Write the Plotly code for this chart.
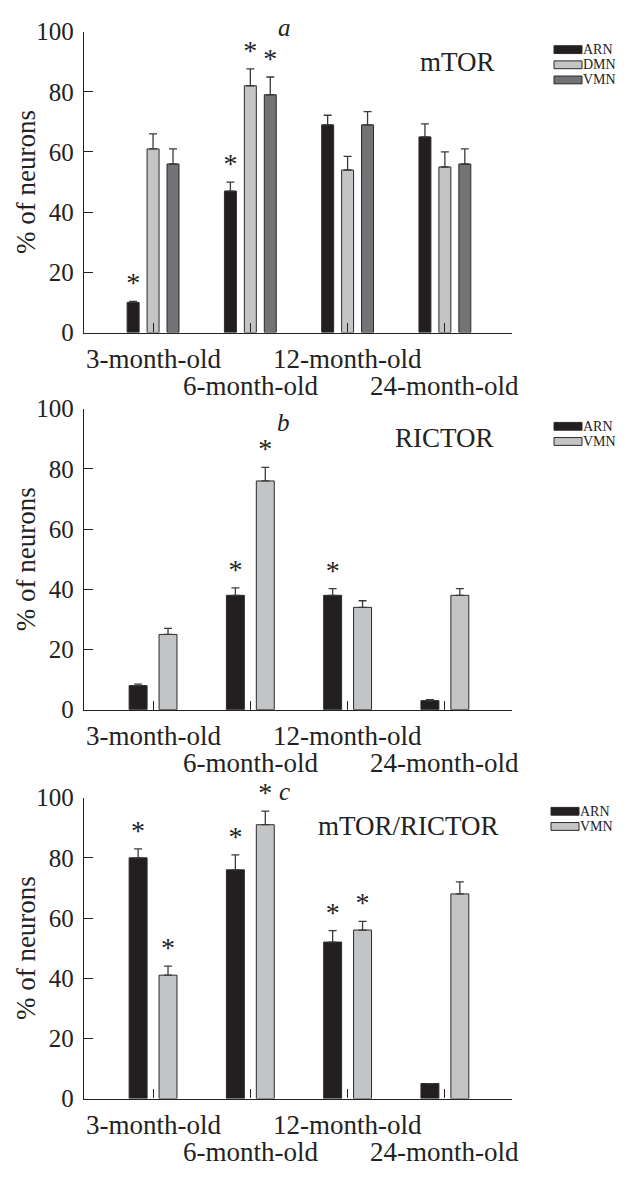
import plotly.graph_objects as go

# ---------------- data ----------------
ages = ["3-month-old", "6-month-old", "12-month-old", "24-month-old"]

# panel a: mTOR
mtor_arn = [10, 47, 69, 65]
mtor_arn_err = [0.3, 3, 3.2, 4.3]
mtor_arn_sig = [1, 1, 0, 0]
mtor_dmn = [61, 82, 54, 55]
mtor_dmn_err = [5, 5.6, 4.5, 5]
mtor_dmn_sig = [0, 1, 0, 0]
mtor_vmn = [56, 79, 69, 56]
mtor_vmn_err = [5, 5.9, 4.4, 5]
mtor_vmn_sig = [0, 1, 0, 0]

# panel b: RICTOR
rictor_arn = [8, 38, 38, 3]
rictor_arn_err = [0.5, 2.5, 2.2, 0.3]
rictor_arn_sig = [0, 1, 1, 0]
rictor_vmn = [25, 76, 34, 38]
rictor_vmn_err = [2, 4.5, 2.2, 2.2]
rictor_vmn_sig = [0, 1, 0, 0]

# panel c: mTOR/RICTOR
co_arn = [80, 76, 52, 5]
co_arn_err = [3, 5, 3.8, 0]
co_arn_sig = [1, 1, 1, 0]
co_vmn = [41, 91, 56, 68]
co_vmn_err = [3, 4.5, 2.9, 4]
co_vmn_sig = [1, 1, 1, 0]

panel_letters = ["a", "b", "c"]
panel_titles = ["mTOR", "RICTOR", "mTOR/RICTOR"]
y_title = "% of neurons"

# ---------------- styles ----------------
C_BLACK = "#231f20"
C_LIGHT = "#c3c4c6"
C_DARK = "#727377"
FONT = "Liberation Serif"
W, H = 630, 1180

panels = [
    dict(series=[("ARN", mtor_arn, mtor_arn_err, mtor_arn_sig, C_BLACK),
                 ("DMN", mtor_dmn, mtor_dmn_err, mtor_dmn_sig, C_LIGHT),
                 ("VMN", mtor_vmn, mtor_vmn_err, mtor_vmn_sig, C_DARK)],
         y0=327, y100=19, letter=(284, 15), title=(457, 50), legend=(554, 37.5)),
    dict(series=[("ARN", rictor_arn, rictor_arn_err, rictor_arn_sig, C_BLACK),
                 ("VMN", rictor_vmn, rictor_vmn_err, rictor_vmn_sig, C_LIGHT)],
         y0=713, y100=405, letter=(283, 419), title=(444, 435), legend=(554, 423)),
    dict(series=[("ARN", co_arn, co_arn_err, co_arn_sig, C_BLACK),
                 ("VMN", co_vmn, co_vmn_err, co_vmn_sig, C_LIGHT)],
         y0=1111, y100=803, letter=(284, 797), title=(408, 832), legend=(551, 817)),
]
LEG_STEP = 15.5

fig = go.Figure()
annotations = []
shapes = []
x_dom = [84 / W, 512 / W]

for i, p in enumerate(panels):
    k = "" if i == 0 else str(i + 1)
    xa, ya = "x" + k, "y" + k
    for j, (name, vals, errs, sig, col) in enumerate(p["series"]):
        og = f"p{i}s{j}"
        fig.add_trace(go.Bar(
            x=ages, y=vals, name=name, xaxis=xa, yaxis=ya, offsetgroup=og,
            marker=dict(color=col, line=dict(color="#2a2a2a", width=1)),
            error_y=dict(type="data", array=errs, arrayminus=[0] * len(errs),
                         symmetric=False, color="#3a3a3a", thickness=1.3, width=4),
            showlegend=False,
        ))
        # significance asterisks placed above the error bars
        fig.add_trace(go.Bar(
            x=ages, y=[0.01] * len(vals), base=[v + e for v, e in zip(vals, errs)],
            xaxis=xa, yaxis=ya, offsetgroup=og,
            marker=dict(color="rgba(0,0,0,0)", line=dict(width=0)),
            text=["*" if s else "" for s in sig], textposition="outside",
            textfont=dict(family=FONT, size=28, color="#222"),
            constraintext="none", cliponaxis=False, hoverinfo="skip",
            showlegend=False,
        ))
    dom = [1 - p["y0"] / H, 1 - p["y100"] / H]
    fig.layout["xaxis" + k] = dict(
        domain=x_dom, anchor=ya, type="category", range=[-0.71, 3.69],
        showline=True, linecolor="#222", linewidth=1.3,
        ticks="inside", ticklen=9, tickwidth=1.3, tickcolor="#222",
        showticklabels=False, showgrid=False, zeroline=False, fixedrange=True,
    )
    fig.layout["yaxis" + k] = dict(
        domain=dom, anchor=xa, range=[0, 100], dtick=20,
        showline=True, linecolor="#222", linewidth=1.3,
        ticks="inside", ticklen=9, tickwidth=1.3, tickcolor="#222",
        tickfont=dict(family=FONT, size=25, color="#222"),
        ticklabelstandoff=4, showgrid=False, zeroline=False,
    )
    # category labels in two staggered rows
    for c, lab in enumerate(ages):
        annotations.append(dict(
            x=lab, y=0, xref=xa, yref=ya + " domain", text=lab, showarrow=False,
            xanchor="center", yanchor="middle", yshift=-26 if c % 2 == 0 else -53,
            font=dict(family=FONT, size=27, color="#222"),
        ))
    # y-axis title
    annotations.append(dict(
        x=26 / W, y=0.5, xref="paper", yref=ya + " domain", text=y_title,
        textangle=-90, showarrow=False, xanchor="center", yanchor="middle",
        font=dict(family=FONT, size=27, color="#222"),
    ))
    # panel letter
    lx, ly = p["letter"]
    annotations.append(dict(
        x=lx / W, y=1 - ly / H, xref="paper", yref="paper",
        text="<i>" + panel_letters[i] + "</i>", showarrow=False,
        xanchor="center", yanchor="middle", borderpad=0,
        font=dict(family=FONT, size=25, color="#222"),
    ))
    # panel title
    tx, ty = p["title"]
    annotations.append(dict(
        x=tx / W, y=1 - ty / H, xref="paper", yref="paper",
        text=panel_titles[i], showarrow=False, xanchor="center", yanchor="middle",
        font=dict(family=FONT, size=27, color="#222"),
    ))
    # legend (swatch + label)
    gx, gy = p["legend"]
    for j, (name, _, _, _, col) in enumerate(p["series"]):
        cy = gy + j * LEG_STEP
        shapes.append(dict(
            type="rect", xref="paper", yref="paper",
            x0=gx / W, x1=(gx + 28) / W, y0=1 - (cy + 4) / H, y1=1 - (cy - 4) / H,
            fillcolor=col, line=dict(color="#2a2a2a", width=1),
        ))
        annotations.append(dict(
            x=(gx + 28) / W, y=1 - cy / H, xref="paper", yref="paper",
            text=name, showarrow=False, xanchor="left", yanchor="middle",
            borderpad=0, font=dict(family=FONT, size=14, color="#222"),
        ))

fig.update_layout(
    width=W, height=H, margin=dict(l=0, r=0, t=0, b=0),
    paper_bgcolor="white", plot_bgcolor="white",
    barmode="group", bargap=0.385, bargroupgap=0.4,
    annotations=annotations, shapes=shapes, showlegend=False,
)

fig.write_html(
    "out.html",
    config={"displayModeBar": False},
    post_script="document.body.style.margin='0';document.body.style.overflow='hidden';",
)
